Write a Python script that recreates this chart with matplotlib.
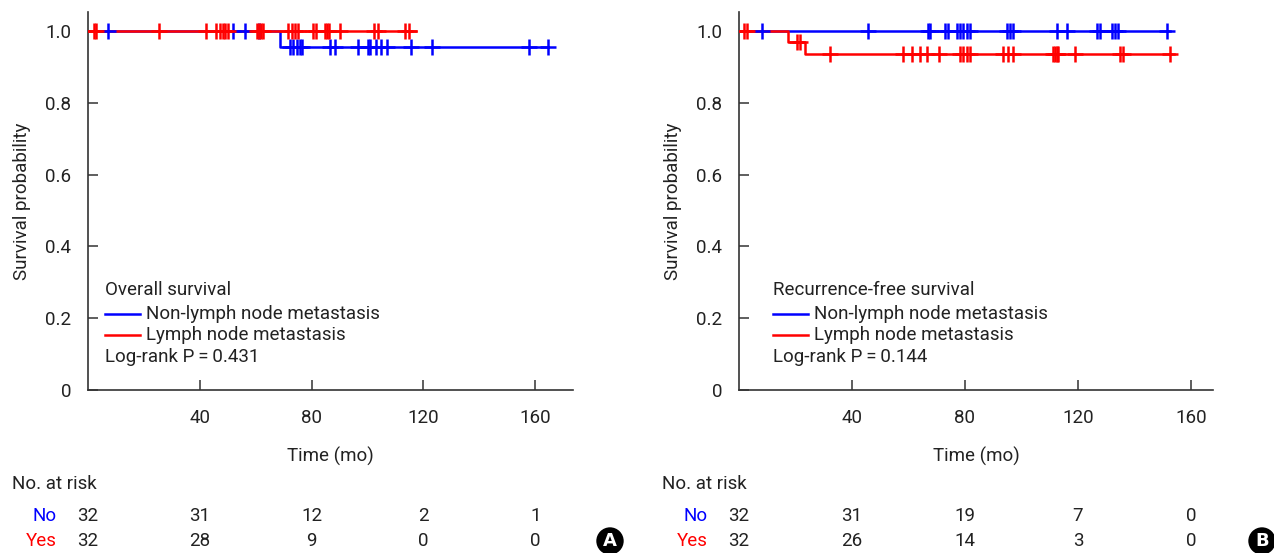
import matplotlib
matplotlib.use("Agg")
import matplotlib.pyplot as plt
import matplotlib.transforms as mtransforms
from matplotlib.lines import Line2D
import numpy as np

plt.rcParams['font.family'] = ['Roboto', 'DejaVu Sans']
FS = 13.5

BLUE = '#0000FF'
RED = '#FF0000'

# ---------------- Panel A: Overall survival ----------------
A_title = "Overall survival"
A_pval = "Log-rank P\u2009=\u20090.431"
# step curves (time, survival)
A_no_steps_t = [0, 68.8, 164.4]
A_no_steps_s = [1.0, 0.955, 0.955]
A_yes_steps_t = [0, 117.5]
A_yes_steps_s = [1.0, 1.0]
A_no_censor = [7.2, 52.0, 56.3, 61.0, 72.4, 73.5, 74.9, 76.0, 76.6, 86.7, 88.5,
               96.6, 100.0, 101.0, 102.9, 104.7, 106.8, 115.4, 123.0, 157.7, 164.4]
A_yes_censor = [2.0, 3.0, 25.4, 42.3, 45.9, 47.3, 48.3, 49.1, 50.2, 60.5, 61.2,
                61.8, 62.6, 71.7, 73.0, 74.0, 75.3, 80.6, 81.4, 84.9, 85.6, 86.2,
                90.3, 102.3, 103.7, 113.3, 114.8]
A_risk_no = [32, 31, 12, 2, 1]
A_risk_yes = [32, 28, 9, 0, 0]

# ---------------- Panel B: Recurrence-free survival ----------------
B_title = "Recurrence-free survival"
B_pval = "Log-rank P\u2009=\u20090.144"
B_no_steps_t = [0, 152.5]
B_no_steps_s = [1.0, 1.0]
B_yes_steps_t = [0, 17.5, 23.4, 154.0]
B_yes_steps_s = [1.0, 0.969, 0.935, 0.935]
B_no_censor = [8.0, 45.8, 67.0, 67.6, 72.9, 74.1, 77.0, 78.2, 79.4, 80.6, 81.8,
               94.8, 95.9, 97.1, 112.5, 116.0, 126.6, 127.8, 131.9, 133.1,
               134.3, 151.4]
B_yes_censor = [1.8, 2.7, 20.4, 21.6, 32.2, 58.2, 61.1, 64.1, 66.4, 70.9, 78.2,
                79.4, 80.6, 81.8, 93.6, 95.4, 97.1, 111.2, 111.8, 112.4, 112.9,
                118.9, 134.9, 136.0, 152.6]
B_risk_no = [32, 31, 19, 7, 0]
B_risk_yes = [32, 26, 14, 3, 0]

risk_times = [0, 40, 80, 120, 160]
xticks = [40, 80, 120, 160]
yticks = [0, 0.2, 0.4, 0.6, 0.8, 1.0]
ytick_labels = ["0", "0.2", "0.4", "0.6", "0.8", "1.0"]
legend_labels = ["Non-lymph node metastasis", "Lymph node metastasis"]

W, H = 1274, 553
fig = plt.figure(figsize=(W / 100, H / 100), dpi=100)
TXT = '#222222'


def fx(px):
    return px / W


def fy(py):
    return (H - py) / H


def step_value(ts, ss, t):
    idx = np.searchsorted(ts, t, side='right') - 1
    return ss[max(idx, 0)]


def draw_panel(left_px, right_px, xmax, steps, censors, title, pval,
               risk_no, risk_yes, leg_x_px):
    ax = fig.add_axes([fx(left_px), fy(390), fx(right_px - left_px), (390 - 12) / H])
    for (ts, ss), cens, col in zip(steps, censors, [BLUE, RED]):
        ax.step(ts, ss, where='post', color=col, lw=1.8, zorder=3)
        cy = [step_value(ts, ss, c) for c in cens]
        ax.plot(cens, cy, linestyle='none', marker='+', color=col,
                markersize=11, markeredgewidth=1.8, zorder=4)
    ax.set_xlim(0, xmax)
    ax.set_ylim(0, 1.053)
    ax.set_xticks(xticks)
    ax.set_xticklabels([str(t) for t in xticks])
    ax.set_yticks(yticks)
    ax.set_yticklabels(ytick_labels)
    for s in ['top', 'right']:
        ax.spines[s].set_visible(False)
    for s in ['left', 'bottom']:
        ax.spines[s].set_color('#333333')
        ax.spines[s].set_linewidth(1.2)
    ax.tick_params(axis='both', direction='in', length=7, width=1.1,
                   colors='#333333', labelsize=FS, labelcolor=TXT)
    ax.tick_params(axis='x', pad=14)
    ax.tick_params(axis='y', pad=12)
    ax.set_xlabel("Time (mo)", fontsize=FS, color=TXT, labelpad=14)
    ax.set_ylabel("Survival probability", fontsize=FS, color=TXT, labelpad=10)

    # legend block
    axw = right_px - left_px
    axh = 378
    lx0 = (leg_x_px - left_px) / axw
    lx1 = (leg_x_px + 35 - left_px) / axw
    tx = (leg_x_px + 41 - left_px) / axw
    ax.text(lx0, (390 - 290) / axh, title, transform=ax.transAxes, fontsize=FS,
            va='center', ha='left', color=TXT)
    for yy, col, lab in zip([314, 335], [BLUE, RED], legend_labels):
        ax.add_line(Line2D([lx0, lx1], [(390 - yy) / axh] * 2, color=col, lw=1.8,
                           transform=ax.transAxes))
        ax.text(tx, (390 - yy) / axh, lab, transform=ax.transAxes, fontsize=FS,
                va='center', ha='left', color=TXT)
    ax.text(lx0, (390 - 357) / axh, pval, transform=ax.transAxes, fontsize=FS,
            va='center', ha='left', color=TXT)

    # risk table
    tr = mtransforms.blended_transform_factory(ax.transData, fig.transFigure)
    for t, n in zip(risk_times, risk_no):
        fig.text(t, fy(516), str(n), transform=tr, ha='center', va='center',
                 fontsize=FS, color=TXT)
    for t, n in zip(risk_times, risk_yes):
        fig.text(t, fy(541), str(n), transform=tr, ha='center', va='center',
                 fontsize=FS, color=TXT)
    return ax


axA = draw_panel(88, 573, 173.5,
                 [(A_no_steps_t, A_no_steps_s), (A_yes_steps_t, A_yes_steps_s)],
                 [A_no_censor, A_yes_censor], A_title, A_pval,
                 A_risk_no, A_risk_yes, 105)
axB = draw_panel(739, 1213, 167.8,
                 [(B_no_steps_t, B_no_steps_s), (B_yes_steps_t, B_yes_steps_s)],
                 [B_no_censor, B_yes_censor], B_title, B_pval,
                 B_risk_no, B_risk_yes, 773)

# row labels and headers
for x0, nx in [(12, 57), (662, 708)]:
    fig.text(fx(x0), fy(484), "No. at risk", ha='left', va='center', fontsize=FS,
             color=TXT)
    fig.text(fx(nx), fy(516), "No", ha='right', va='center', fontsize=FS, color=BLUE)
    fig.text(fx(nx), fy(541), "Yes", ha='right', va='center', fontsize=FS, color=RED)

# panel badges
for bx, letter in [(610, "A"), (1262, "B")]:
    fig.text(fx(bx), fy(541), letter, ha='center', va='center', fontsize=13,
             fontweight='bold', color='white', family='DejaVu Sans',
             bbox=dict(boxstyle='circle,pad=0.26', facecolor='black', edgecolor='none'))

fig.savefig("out.png", dpi=100)
